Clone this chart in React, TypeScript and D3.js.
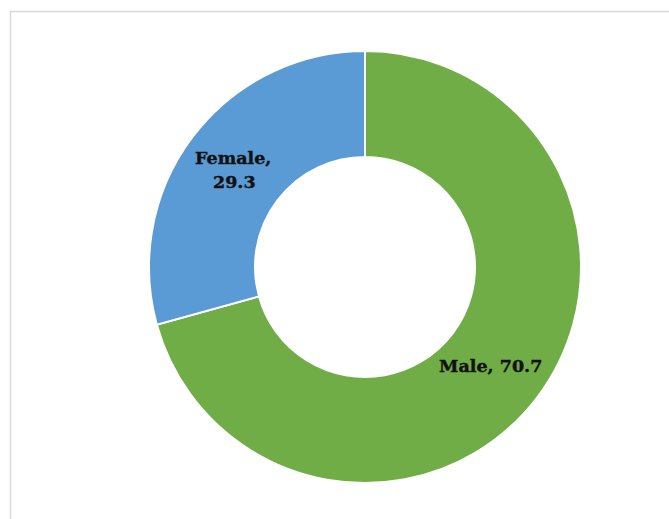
import React from "react";
import * as d3 from "d3";

const categories = ["Male", "Female"];
const values = [70.7, 29.3];
const colors = ["#70AD47", "#5B9BD5"];

export default function App() {
  const W = 669, H = 519;
  const cx = 365, cy = 267, outerR = 216, innerR = 110;
  const data = categories.map((c, i) => ({ c, v: values[i] }));
  const pie = d3.pie<any>().value((d) => d.v).sort(null);
  const arcs = pie(data);
  const arc = d3.arc<any>().innerRadius(innerR).outerRadius(outerR);
  return (
    <svg width={W} height={H} style={{ position: "absolute", left: 0, top: 0, background: "#fff" }}>
      <rect x={10.5} y={11.5} width={700} height={600} fill="none" stroke="#d9d9d9" strokeWidth={1.5} />
      <g transform={`translate(${cx},${cy})`}>
        {arcs.map((a, i) => (
          <path key={i} d={arc(a) as string} fill={colors[i]} stroke="#fff" strokeWidth={2} />
        ))}
        {arcs.map((a, i) => {
          const [x, y] = arc.centroid(a);
          const fontStyle = {
            fontFamily: "'DejaVu Serif', serif",
            fontWeight: "bold",
            fontSize: 17.5,
            fill: "#111",
            stroke: "#111",
            strokeWidth: 0.4,
          } as any;
          if (a.data.c === "Female") {
            return (
              <text key={"t" + i} x={x - 2} y={y} textAnchor="middle" style={fontStyle}>
                <tspan x={x - 2} dy={-4}>{a.data.c},</tspan>
                <tspan x={x - 1} dy={24}>{a.data.v}</tspan>
              </text>
            );
          }
          return (
            <text key={"t" + i} x={x - 4} y={y + 6} textAnchor="middle" style={fontStyle}>
              {`${a.data.c}, ${a.data.v}`}
            </text>
          );
        })}
      </g>
    </svg>
  );
}
